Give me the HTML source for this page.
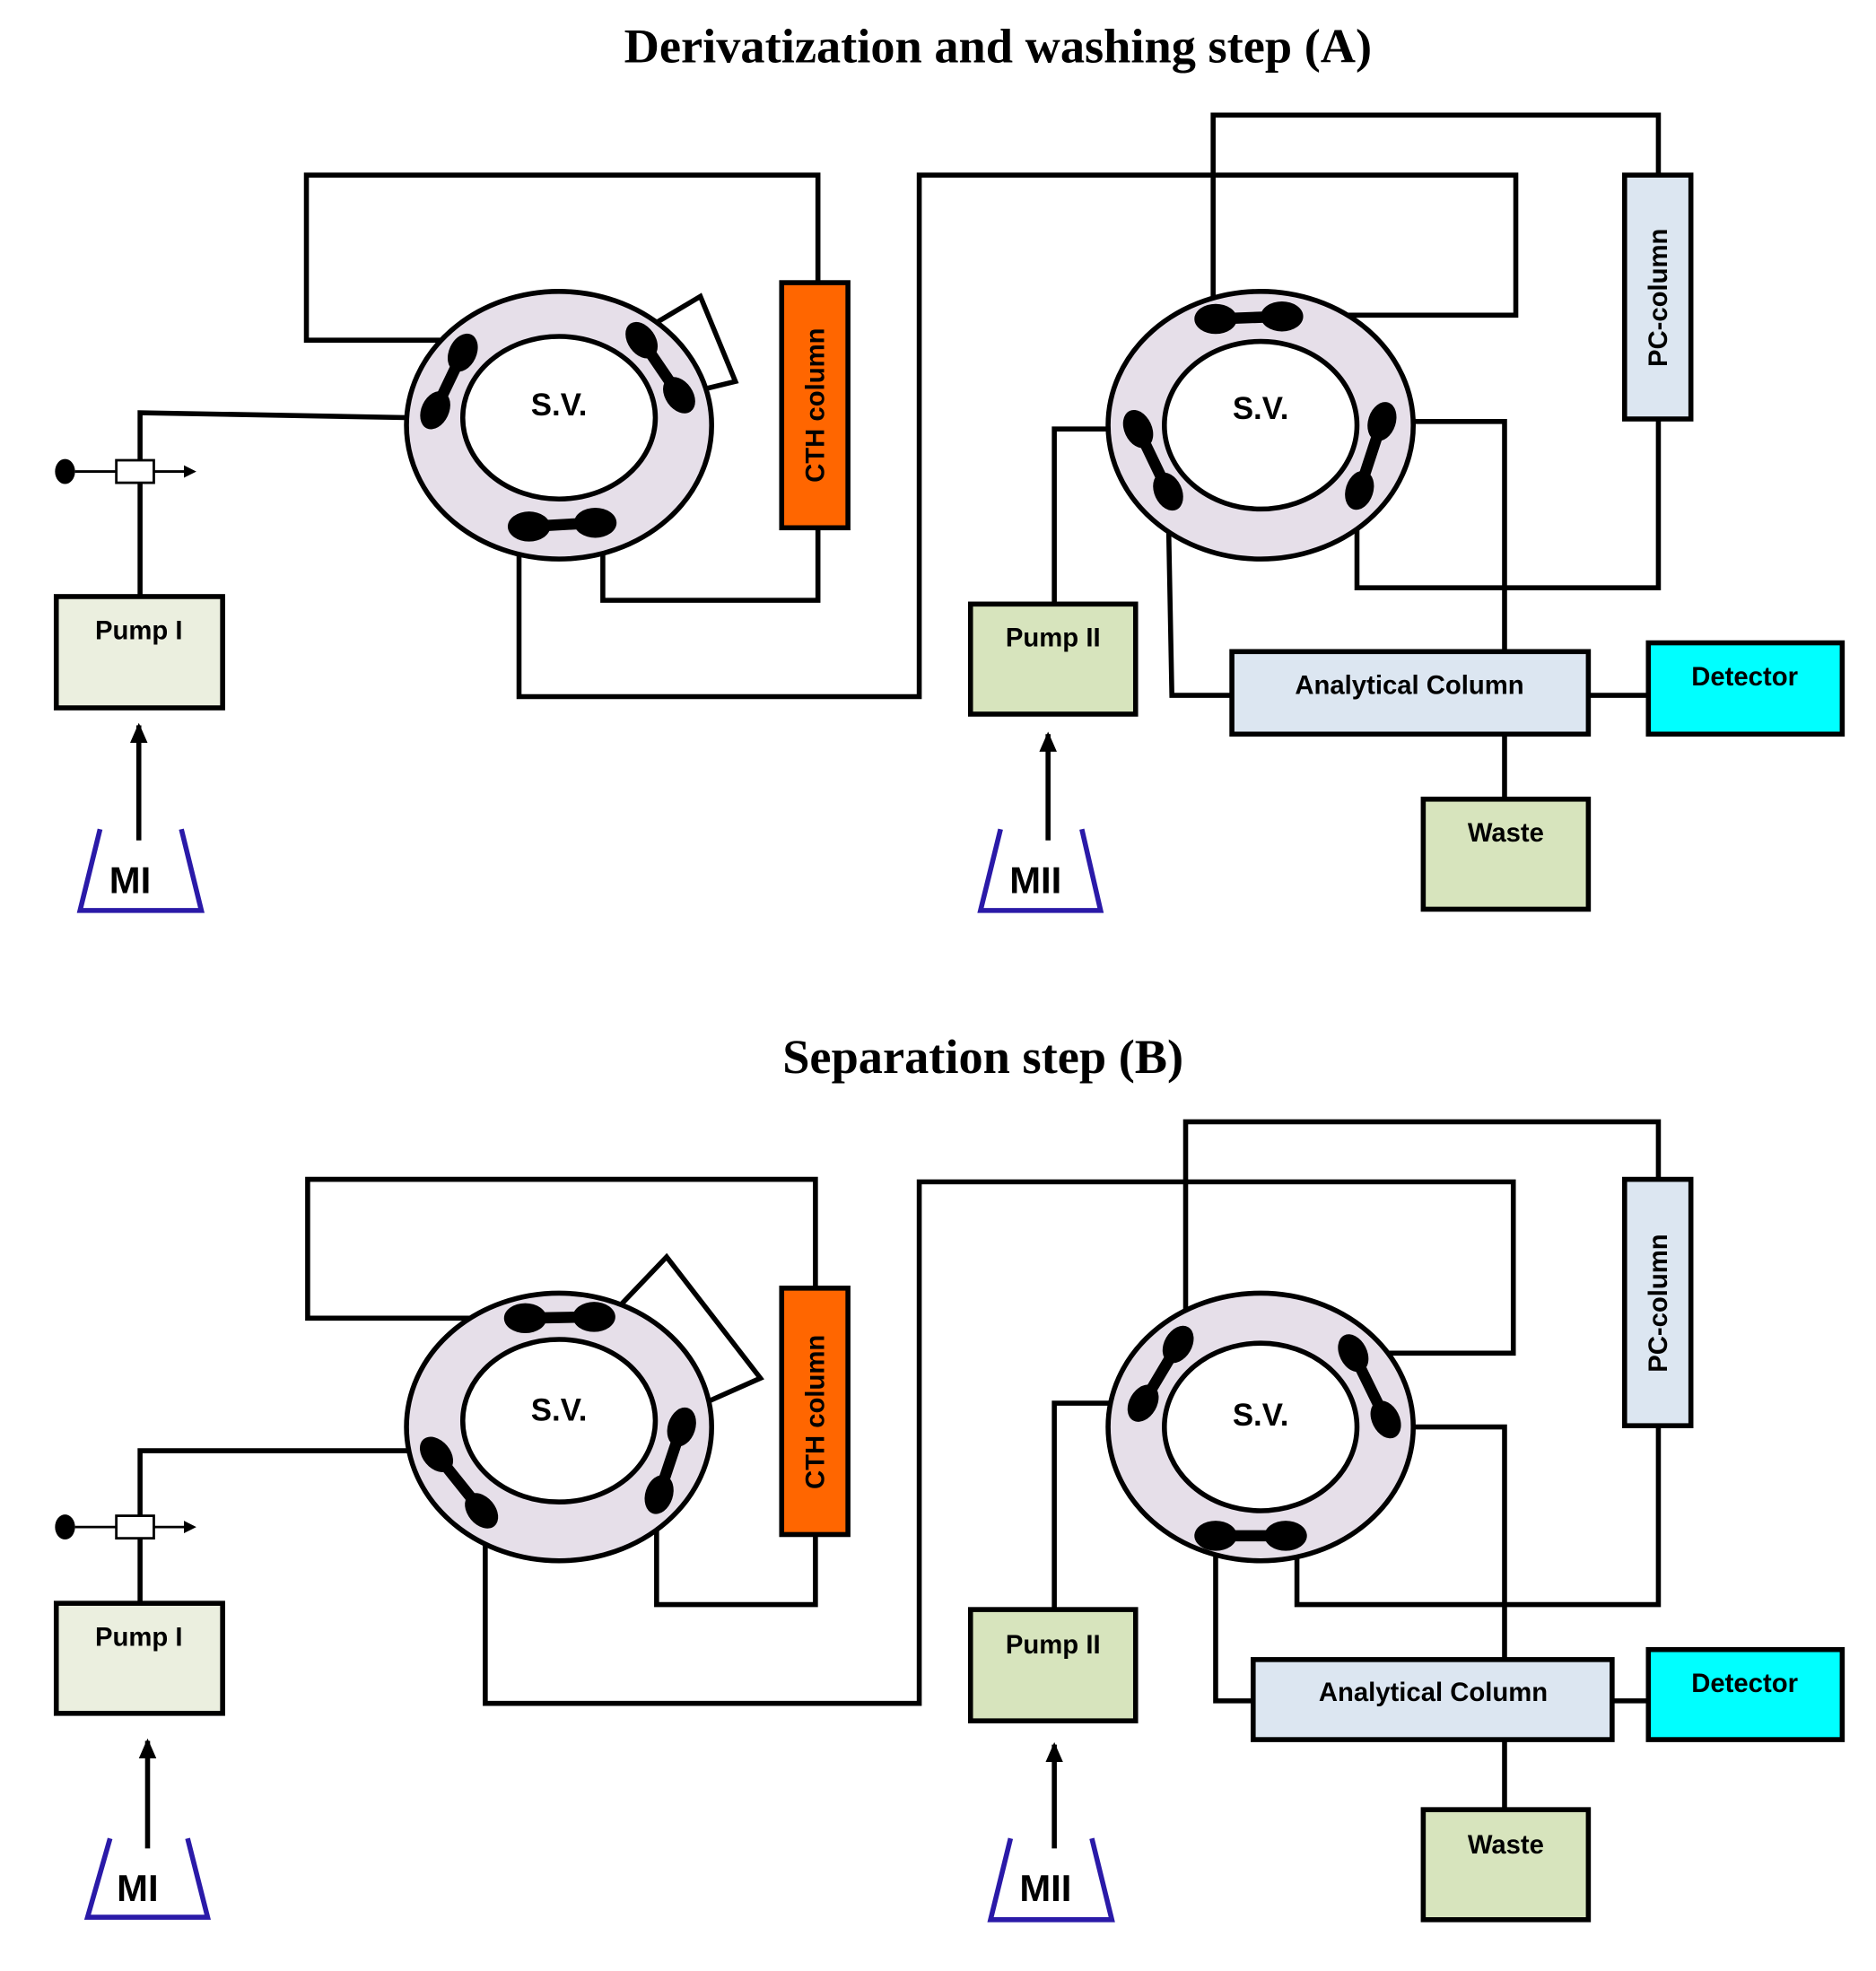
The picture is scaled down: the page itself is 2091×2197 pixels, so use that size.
<!DOCTYPE html>
<html><head><meta charset="utf-8"><style>html,body{margin:0;padding:0;background:#fff}svg{display:block}</style></head>
<body>
<svg width="2091" height="2197" viewBox="0 0 1500 1576" xmlns="http://www.w3.org/2000/svg">
<defs>
<marker id="ah" markerWidth="10" markerHeight="10" refX="8" refY="5" orient="auto" markerUnits="userSpaceOnUse"><path d="M0,0 L10,5 L0,10 Z" fill="#000"/></marker>
<marker id="ah2" markerWidth="16" markerHeight="16" refX="14" refY="8" orient="auto" markerUnits="userSpaceOnUse"><path d="M0,1 L16,8 L0,15 Z" fill="#000"/></marker>
</defs>
<g font-family="'Liberation Serif',serif" font-weight="bold" font-size="39" text-anchor="middle">
<text x="798" y="50">Derivatization and washing step (A)</text>
<text x="786" y="858">Separation step (B)</text>
</g>
<g fill="none" stroke="#000" stroke-width="4">
<polyline points="360,272 245,272 245,140 654,140 654,226"/>
<polyline points="654,422 654,480 482,480 482,420"/>
<polyline points="513,265 560,237 588,305 543,316"/>
<polyline points="330,334 112,330 112,477"/>
<polyline points="415,421 415,557 735,557 735,140 1212,140 1212,252 1040,252"/>
<polyline points="970,248 970,92 1326,92 1326,140"/>
<polyline points="1326,335 1326,470 1085,470 1085,400"/>
<polyline points="1120,337 1203,337 1203,521"/>
<polyline points="934,400 937,556 985,556"/>
<polyline points="890,343 843,343 843,483"/>
<line x1="1270" y1="556" x2="1318" y2="556"/>
<line x1="1203" y1="587" x2="1203" y2="639"/>
<polyline points="405,1054 246,1054 246,943 652,943 652,1030"/>
<polyline points="652,1227 652,1283 525,1283 525,1200"/>
<polyline points="490,1050 533,1005 608,1102 545,1130"/>
<polyline points="335,1160 112,1160 112,1282"/>
<polyline points="388,1210 388,1362 735,1362 735,945 1210,945 1210,1082 1090,1082"/>
<polyline points="948,1075 948,897 1326,897 1326,943"/>
<polyline points="1326,1140 1326,1283 1037,1283 1037,1230"/>
<polyline points="1120,1141 1203,1141 1203,1327"/>
<polyline points="972,1235 972,1360 1002,1360"/>
<polyline points="900,1122 843,1122 843,1287"/>
<line x1="1289" y1="1360" x2="1318" y2="1360"/>
<line x1="1203" y1="1391" x2="1203" y2="1447"/>
</g>
<g stroke="#000" fill="none">
<line x1="60" y1="377" x2="93" y2="377" stroke-width="2"/>
<line x1="123" y1="377" x2="155" y2="377" stroke-width="2" marker-end="url(#ah)"/>
<line x1="60" y1="1221" x2="93" y2="1221" stroke-width="2"/>
<line x1="123" y1="1221" x2="155" y2="1221" stroke-width="2" marker-end="url(#ah)"/>
<line x1="111" y1="672" x2="111" y2="580" stroke-width="4" marker-end="url(#ah2)"/>
<line x1="838" y1="672" x2="838" y2="587" stroke-width="4" marker-end="url(#ah2)"/>
<line x1="118" y1="1478" x2="118" y2="1392" stroke-width="4" marker-end="url(#ah2)"/>
<line x1="843" y1="1478" x2="843" y2="1395" stroke-width="4" marker-end="url(#ah2)"/>
</g>
<ellipse cx="52" cy="377" rx="8" ry="10"/>
<rect x="93" y="368" width="30" height="18" fill="#fff" stroke="#000" stroke-width="2"/>
<ellipse cx="52" cy="1221" rx="8" ry="10"/>
<rect x="93" y="1212" width="30" height="18" fill="#fff" stroke="#000" stroke-width="2"/>
<g stroke="#000" stroke-width="4">
<ellipse cx="447" cy="340" rx="122" ry="107" fill="#e6dfe9"/>
<ellipse cx="447" cy="334" rx="77" ry="65" fill="#fff"/>
<ellipse cx="1008" cy="340" rx="122" ry="107" fill="#e6dfe9"/>
<ellipse cx="1008" cy="340" rx="77" ry="67" fill="#fff"/>
<ellipse cx="447" cy="1141" rx="122" ry="107" fill="#e6dfe9"/>
<ellipse cx="447" cy="1136" rx="77" ry="65" fill="#fff"/>
<ellipse cx="1008" cy="1141" rx="122" ry="107" fill="#e6dfe9"/>
<ellipse cx="1008" cy="1141" rx="77" ry="67" fill="#fff"/>
</g>
<g stroke="#000" stroke-width="9">
<line x1="370" y1="282" x2="348" y2="328"/><line x1="513" y1="272" x2="543" y2="316"/><line x1="423" y1="421" x2="476" y2="418"/>
<line x1="972" y1="255" x2="1025" y2="253"/><line x1="910" y1="343" x2="934" y2="393"/><line x1="1105" y1="337" x2="1087" y2="392"/>
<line x1="420" y1="1054" x2="475" y2="1053"/><line x1="349" y1="1163" x2="385" y2="1208"/><line x1="545" y1="1141" x2="527" y2="1195"/>
<line x1="942" y1="1075" x2="914" y2="1122"/><line x1="1082" y1="1082" x2="1108" y2="1135"/><line x1="972" y1="1228" x2="1028" y2="1228"/>
</g>
<g fill="#000">
<ellipse cx="370" cy="282" rx="11" ry="16" transform="rotate(25 370 282)"/><ellipse cx="348" cy="328" rx="11" ry="16" transform="rotate(25 348 328)"/>
<ellipse cx="513" cy="272" rx="11" ry="16" transform="rotate(-35 513 272)"/><ellipse cx="543" cy="316" rx="11" ry="16" transform="rotate(-35 543 316)"/>
<ellipse cx="423" cy="421" rx="17" ry="12"/><ellipse cx="476" cy="418" rx="17" ry="12"/>
<ellipse cx="972" cy="255" rx="17" ry="12"/><ellipse cx="1025" cy="253" rx="17" ry="12"/>
<ellipse cx="910" cy="343" rx="11" ry="16" transform="rotate(-25 910 343)"/><ellipse cx="934" cy="393" rx="11" ry="16" transform="rotate(-25 934 393)"/>
<ellipse cx="1105" cy="337" rx="11" ry="16" transform="rotate(18 1105 337)"/><ellipse cx="1087" cy="392" rx="11" ry="16" transform="rotate(18 1087 392)"/>
<ellipse cx="420" cy="1054" rx="17" ry="12"/><ellipse cx="475" cy="1053" rx="17" ry="12"/>
<ellipse cx="349" cy="1163" rx="11" ry="16" transform="rotate(-40 349 1163)"/><ellipse cx="385" cy="1208" rx="11" ry="16" transform="rotate(-40 385 1208)"/>
<ellipse cx="545" cy="1141" rx="11" ry="16" transform="rotate(18 545 1141)"/><ellipse cx="527" cy="1195" rx="11" ry="16" transform="rotate(18 527 1195)"/>
<ellipse cx="942" cy="1075" rx="11" ry="16" transform="rotate(30 942 1075)"/><ellipse cx="914" cy="1122" rx="11" ry="16" transform="rotate(30 914 1122)"/>
<ellipse cx="1082" cy="1082" rx="11" ry="16" transform="rotate(-27 1082 1082)"/><ellipse cx="1108" cy="1135" rx="11" ry="16" transform="rotate(-27 1108 1135)"/>
<ellipse cx="972" cy="1228" rx="17" ry="12"/><ellipse cx="1028" cy="1228" rx="17" ry="12"/>
</g>
<g stroke="#000" stroke-width="4">
<rect x="625" y="226" width="53" height="196" fill="#ff6600"/>
<rect x="45" y="477" width="133" height="89" fill="#ebefdf"/>
<rect x="1299" y="140" width="53" height="195" fill="#dce6f1"/>
<rect x="776" y="483" width="132" height="88" fill="#d7e4bd"/>
<rect x="985" y="521" width="285" height="66" fill="#dce6f1"/>
<rect x="1318" y="514" width="155" height="73" fill="#00ffff"/>
<rect x="1138" y="639" width="132" height="88" fill="#d7e4bd"/>
<rect x="625" y="1030" width="53" height="197" fill="#ff6600"/>
<rect x="45" y="1282" width="133" height="88" fill="#ebefdf"/>
<rect x="1299" y="943" width="53" height="197" fill="#dce6f1"/>
<rect x="776" y="1287" width="132" height="89" fill="#d7e4bd"/>
<rect x="1002" y="1327" width="287" height="64" fill="#dce6f1"/>
<rect x="1318" y="1319" width="155" height="72" fill="#00ffff"/>
<rect x="1138" y="1447" width="132" height="88" fill="#d7e4bd"/>
</g>
<g fill="none" stroke="#2a1aa8" stroke-width="4">
<polyline points="80,663 64,728 161,728 145,663"/>
<polyline points="800,663 784,728 880,728 865,663"/>
<polyline points="88,1470 70,1533 166,1533 150,1470"/>
<polyline points="808,1470 792,1535 889,1535 873,1470"/>
</g>
<g font-family="'Liberation Sans',sans-serif" font-weight="bold" text-anchor="middle" fill="#000">
<text x="447" y="332" font-size="25">S.V.</text>
<text x="1008" y="335" font-size="25">S.V.</text>
<text x="447" y="1136" font-size="25">S.V.</text>
<text x="1008" y="1140" font-size="25">S.V.</text>
<g font-size="21">
<text x="111" y="511">Pump I</text>
<text x="842" y="517">Pump II</text>
<text x="1127" y="555">Analytical Column</text>
<text x="1395" y="548">Detector</text>
<text x="1204" y="673">Waste</text>
<text x="111" y="1316">Pump I</text>
<text x="842" y="1322">Pump II</text>
<text x="1146" y="1360">Analytical Column</text>
<text x="1395" y="1353">Detector</text>
<text x="1204" y="1482">Waste</text>
<text transform="translate(659,324) rotate(-90)">CTH column</text>
<text transform="translate(1333,238) rotate(-90)">PC-column</text>
<text transform="translate(659,1129) rotate(-90)">CTH column</text>
<text transform="translate(1333,1042) rotate(-90)">PC-column</text>
</g>
<g font-size="30">
<text x="104" y="714">MI</text>
<text x="828" y="714">MII</text>
<text x="110" y="1520">MI</text>
<text x="836" y="1520">MII</text>
</g>
</g>
</svg>
</body></html>
